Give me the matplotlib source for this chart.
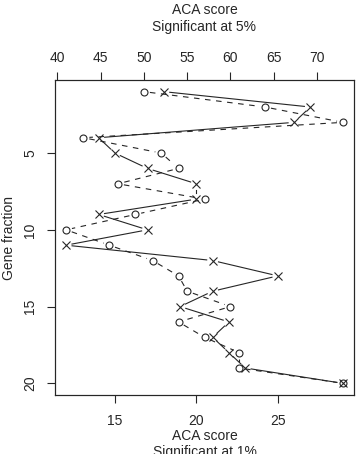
import matplotlib.pyplot as plt
import numpy as np

plt.rcParams['font.family'] = ['Liberation Sans', 'DejaVu Sans']

# values
gene_fraction = list(range(1, 21))
aca_1pct = [18, 27, 26, 14, 15, 17, 20, 20, 14, 17, 12, 21, 25, 21, 19, 22, 21, 22, 23, 29]
aca_5pct = [50, 64, 73, 43, 52, 54, 47, 57, 49, 41, 46, 51, 54, 55, 60, 54, 57, 61, 61, 73]

INK = '#262626'


def r_range(v):
    # R style 4% padding
    lo, hi = min(v), max(v)
    pad = 0.04 * (hi - lo)
    return lo - pad, hi + pad


def gapped_line(ax, x, y, gap=6, **kw):
    # like R type="b": segments stop short of the points
    pts = ax.transData.transform(np.column_stack([x, y]))
    inv = ax.transData.inverted()
    for p, q in zip(pts[:-1], pts[1:]):
        d = q - p
        L = np.hypot(*d)
        if L <= 2 * gap:
            continue
        u = d / L
        seg = inv.transform([p + u * gap, q - u * gap])
        ax.plot(seg[:, 0], seg[:, 1], **kw)


fig = plt.figure(figsize=(3.57, 4.54), dpi=100)
fig.subplots_adjust(left=55 / 357, right=354 / 357, top=1 - 80 / 454, bottom=1 - 395 / 454)
ax = fig.add_subplot(111)
ax2 = ax.twiny()

ax.set_xlim(*r_range(aca_1pct))
ax2.set_xlim(*r_range(aca_5pct))
y0, y1 = r_range(gene_fraction)
ax.set_ylim(y1, y0)

ax.set_xticks([15, 20, 25])
ax2.set_xticks([40, 45, 50, 55, 60, 65, 70])
ax.set_yticks([5, 10, 15, 20])
ax.set_yticklabels(['5', '10', '15', '20'], rotation=90, va='center')

for a in (ax, ax2):
    for s in a.spines.values():
        s.set_linewidth(0.8)
        s.set_color(INK)
    a.tick_params(colors=INK, labelcolor=INK, width=0.8, length=6, labelsize=10)
ax.tick_params(axis='x', pad=7.5)
ax.tick_params(axis='y', pad=7)
ax2.tick_params(axis='x', pad=5)

# 1% series: crosses, solid line (bottom axis)
gapped_line(ax, aca_1pct, gene_fraction, color=INK, lw=0.8, ls='-')
ax.plot(aca_1pct, gene_fraction, ls='none', marker='x', ms=5.5, mew=0.8, color=INK)

# 5% series: circles, dashed line (top axis)
gapped_line(ax2, aca_5pct, gene_fraction, color=INK, lw=0.8, ls=(0, (5, 5)))
ax2.plot(aca_5pct, gene_fraction, ls='none', marker='o', ms=5, mew=0.8,
         mfc='none', mec=INK)

ax.set_xlabel('ACA score\nSignificant at 1%', fontsize=10, color=INK, labelpad=1,
              linespacing=1.2)
ax2.set_xlabel('ACA score\nSignificant at 5%', fontsize=10, color=INK, labelpad=14.5,
               linespacing=1.2)
ax.set_ylabel('Gene fraction', fontsize=10, color=INK, labelpad=5)

fig.savefig('out.png', dpi=100)
